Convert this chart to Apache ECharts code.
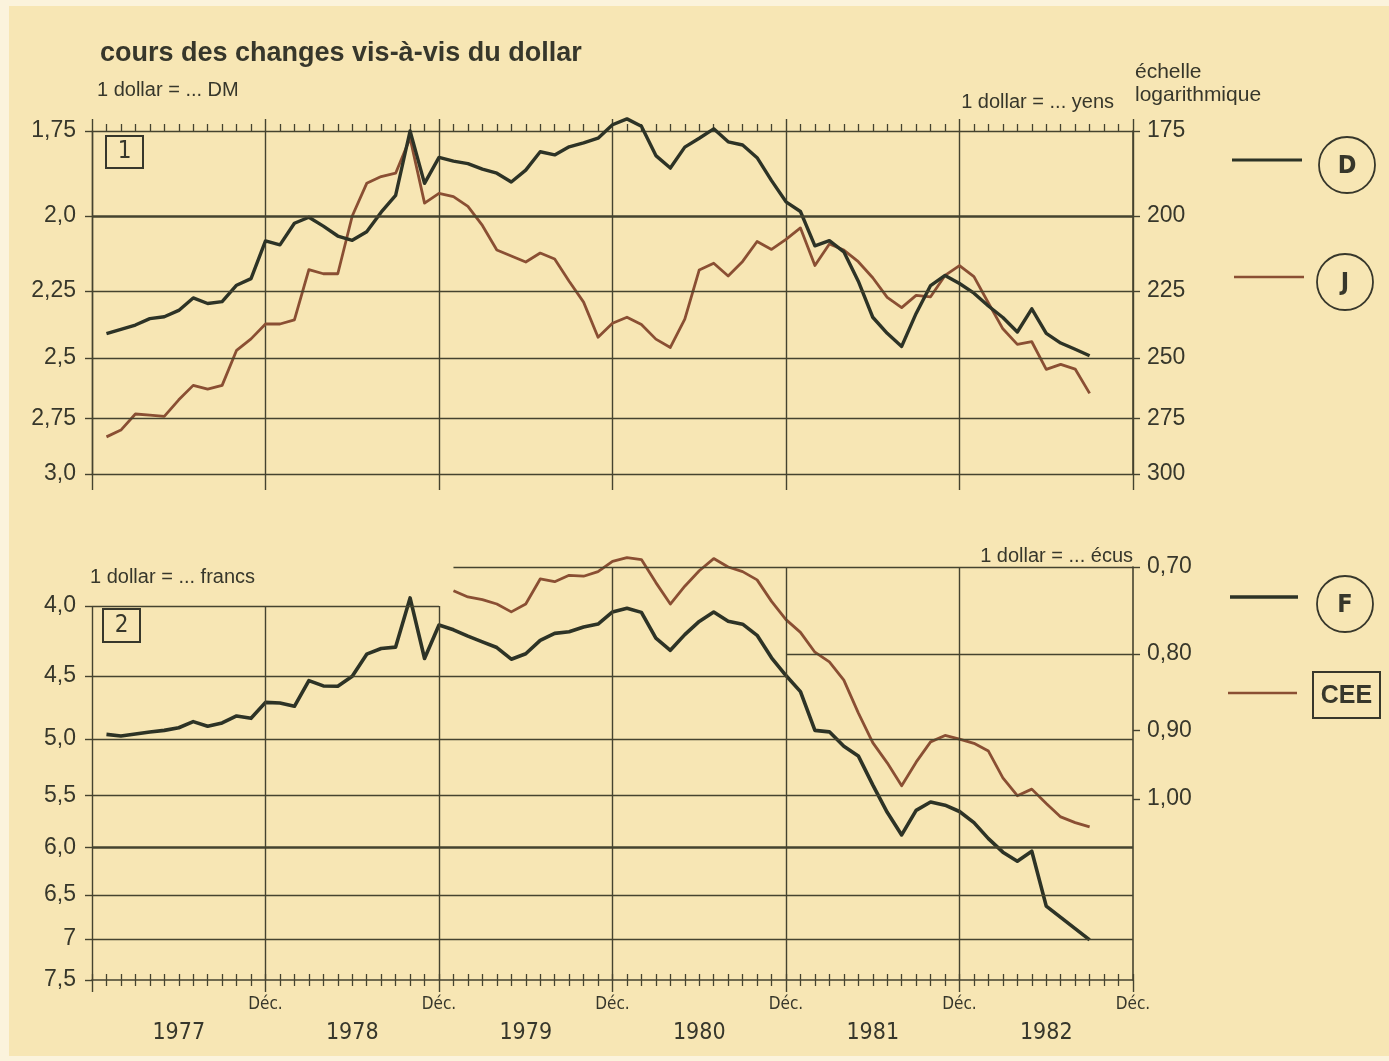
<!DOCTYPE html>
<html>
<head>
<meta charset="utf-8">
<script src="https://cdn.jsdelivr.net/npm/echarts@6/dist/echarts.min.js"></script>
<style>
  html, body { margin: 0; padding: 0; background: #f7e6b4; }
  #chart { width: 1389px; height: 1061px; }
</style>
</head>
<body>
<div id="chart"></div>
<script>
// x = months since Dec 1976 (1 = Jan 1977)
const firstMonth = 1;
const ecuFirstMonth = 25;
const yearLabels = ['1977', '1978', '1979', '1980', '1981', '1982'];
const yearTicks = [6, 18, 30, 42, 54, 66];
const decTicks = [12, 24, 36, 48, 60, 72];

// 1 dollar = ... DM
const dmPerDollar = [
  2.406, 2.39, 2.374, 2.35, 2.343, 2.32, 2.275, 2.295, 2.288, 2.23, 2.207, 2.08,
  2.093, 2.023, 2.004, 2.032, 2.064, 2.078, 2.05, 1.988, 1.936, 1.75, 1.90, 1.824,
  1.835, 1.842, 1.858, 1.87, 1.896, 1.861, 1.808, 1.817, 1.794, 1.783, 1.77, 1.733,
  1.717, 1.737, 1.819, 1.855, 1.795, 1.77, 1.744, 1.78, 1.789, 1.825, 1.892, 1.956,
  1.986, 2.096, 2.079, 2.116, 2.216, 2.345, 2.405, 2.455, 2.331, 2.231, 2.196, 2.224,
  2.258, 2.304, 2.346, 2.40, 2.314, 2.405, 2.442, 2.466, 2.491
];
// 1 dollar = ... yens
const yenPerDollar = [
  283, 280, 273, 273.5, 274, 267, 261, 262.5, 261, 247, 242.6, 237,
  237, 235.5, 217.6, 219, 219, 200, 190, 188, 187, 177, 196, 193,
  194, 197, 203, 211, 213, 215, 212, 214, 221.6, 229, 242, 236.7,
  234.5, 237.2, 242.7, 245.9, 235.2, 217.7, 215.4, 219.8, 214.8, 208.2, 210.8, 207.5,
  203.8, 216.2, 209, 211, 214.9, 220.4, 227.3, 231, 226.6, 227.1, 219.6, 216.2,
  220, 229.3, 238.8, 244.7, 243.7, 254.5, 252.5, 254.4, 264.3
];
// 1 dollar = ... francs
const frfPerDollar = [
  4.963, 4.976, 4.96, 4.944, 4.93, 4.908, 4.858, 4.896, 4.869, 4.812, 4.831, 4.703,
  4.708, 4.734, 4.534, 4.575, 4.577, 4.501, 4.337, 4.296, 4.286, 3.946, 4.369, 4.13,
  4.163, 4.208, 4.248, 4.289, 4.374, 4.334, 4.238, 4.188, 4.177, 4.144, 4.123, 4.04,
  4.015, 4.043, 4.222, 4.309, 4.197, 4.105, 4.041, 4.103, 4.124, 4.202, 4.364, 4.496,
  4.619, 4.93, 4.942, 5.064, 5.146, 5.403, 5.658, 5.877, 5.639, 5.561, 5.59, 5.65,
  5.757, 5.914, 6.05, 6.142, 6.04, 6.624, 6.751, 6.879, 7.01
];
// 1 dollar = ... écus (from Jan 1979)
const ecuPerDollar = [
  0.726, 0.733, 0.736, 0.741, 0.750, 0.741, 0.713, 0.716, 0.709, 0.710, 0.705, 0.694,
  0.690, 0.692, 0.717, 0.741, 0.721, 0.704, 0.691, 0.700, 0.705, 0.714, 0.738, 0.759,
  0.774, 0.798, 0.810, 0.833, 0.876, 0.917, 0.946, 0.980, 0.945, 0.916, 0.907, 0.912,
  0.918, 0.929, 0.968, 0.995, 0.985, 1.007, 1.028, 1.037, 1.044
];

const dmTicks = [1.75, 2, 2.25, 2.5, 2.75, 3];
const dmTickLabels = ['1,75', '2,0', '2,25', '2,5', '2,75', '3,0'];
const yenTicks = [175, 200, 225, 250, 275, 300];
const frfTicks = [4, 4.5, 5, 5.5, 6, 6.5, 7, 7.5];
const frfTickLabels = ['4,0', '4,5', '5,0', '5,5', '6,0', '6,5', '7', '7,5'];
const ecuTicks = [0.7, 0.8, 0.9, 1.0];
const ecuTickLabels = ['0,70', '0,80', '0,90', '1,00'];

const ink = '#37372b';
const gridInk = '#45432f';
const darkLine = '#2d3326';
const brownLine = '#8a4f33';
const paper = '#f7e6b4';
const font = '"Liberation Sans", Arial, sans-serif';
const narrow = '"Liberation Sans Narrow", "DejaVu Sans Condensed", "Liberation Sans", sans-serif';

function pairs(values, start) {
  return values.map((v, i) => [start + i, v]);
}
function labelFor(ticks, labels) {
  return function (v) {
    const i = ticks.findIndex(t => Math.abs(t - v) < 1e-6);
    return i < 0 ? '' : labels[i];
  };
}
function hLine(v, w) {
  return { yAxis: v, lineStyle: { width: w || 1.4 } };
}

const chart = echarts.init(document.getElementById('chart'), null, { renderer: 'canvas' });

const axisText = { color: ink, fontFamily: font, fontSize: 23 };
const gridStroke = { color: gridInk, width: 1.4 };

const option = {
  backgroundColor: paper,
  animation: false,
  grid: [
    { left: 92, right: 256, top: 131, height: 343, containLabel: false, outerBoundsMode: 'none' },
    { left: 92, right: 256, top: 567, height: 413, containLabel: false, outerBoundsMode: 'none' }
  ],
  xAxis: [
    {
      gridIndex: 0, type: 'value', position: 'top', min: 0, max: 72, interval: 12,
      axisLine: { show: true, onZero: false, lineStyle: gridStroke },
      axisTick: { show: true, inside: false, length: 12, lineStyle: gridStroke },
      minorTick: { show: true, splitNumber: 12, length: 7, lineStyle: { color: gridInk, width: 1.3 } },
      axisLabel: { show: false },
      splitLine: { show: true, lineStyle: gridStroke }
    },
    {
      gridIndex: 0, type: 'value', position: 'bottom', min: 0, max: 72, interval: 12,
      axisLine: { show: true, onZero: false, lineStyle: gridStroke },
      axisTick: { show: true, inside: false, length: 16, lineStyle: gridStroke },
      axisLabel: { show: false },
      splitLine: { show: false }
    },
    {
      gridIndex: 1, type: 'value', position: 'bottom', min: 0, max: 72, interval: 12,
      axisLine: { show: true, onZero: false, lineStyle: { color: gridInk, width: 1.6 } },
      axisTick: { show: true, inside: false, length: 12, lineStyle: gridStroke },
      minorTick: { show: true, splitNumber: 12, length: 6, lineStyle: { color: gridInk, width: 1.3 } },
      axisLabel: {
        customValues: decTicks, formatter: () => 'Déc.', margin: 16,
        color: ink, fontFamily: narrow, fontSize: 17
      },
      splitLine: { show: false }
    },
    {
      gridIndex: 1, type: 'value', position: 'bottom', min: 0, max: 72, interval: 12,
      axisLine: { show: false, onZero: false },
      axisTick: { show: true, inside: true, length: 6, lineStyle: { color: gridInk, width: 1.3 } },
      minorTick: { show: true, splitNumber: 12, length: 6, lineStyle: { color: gridInk, width: 1.3 } },
      axisLabel: {
        customValues: yearTicks, formatter: labelFor(yearTicks, yearLabels), margin: 42,
        color: ink, fontFamily: narrow, fontSize: 23
      },
      splitLine: { show: false }
    }
  ],
  yAxis: [
    {
      gridIndex: 0, type: 'log', inverse: true, position: 'left', min: 1.75, max: 3,
      axisLine: { show: true, onZero: false, lineStyle: gridStroke },
      axisTick: { show: true, customValues: dmTicks, length: 7, lineStyle: gridStroke },
      axisLabel: Object.assign({ customValues: dmTicks, formatter: labelFor(dmTicks, dmTickLabels), margin: 16 }, axisText),
      splitLine: { show: false }
    },
    {
      gridIndex: 0, type: 'log', inverse: true, position: 'right', min: 175, max: 300,
      axisLine: { show: true, onZero: false, lineStyle: { color: gridInk, width: 1.6 } },
      axisTick: { show: true, customValues: yenTicks, length: 7, lineStyle: gridStroke },
      axisLabel: Object.assign({ customValues: yenTicks, margin: 14 }, axisText),
      splitLine: { show: false }
    },
    {
      gridIndex: 1, type: 'log', inverse: true, position: 'left', min: 3.746, max: 7.5,
      axisLine: { show: false, onZero: false },
      axisTick: { show: true, customValues: frfTicks, length: 7, lineStyle: gridStroke },
      axisLabel: Object.assign({ customValues: frfTicks, formatter: labelFor(frfTicks, frfTickLabels), margin: 16 }, axisText),
      splitLine: { show: false }
    },
    {
      gridIndex: 1, type: 'log', inverse: true, position: 'right', min: 0.70, max: 1.321,
      axisLine: { show: true, onZero: false, lineStyle: { color: gridInk, width: 1.6 } },
      axisTick: { show: true, customValues: ecuTicks, length: 7, lineStyle: gridStroke },
      axisLabel: Object.assign({ customValues: ecuTicks, formatter: labelFor(ecuTicks, ecuTickLabels), margin: 14 }, axisText),
      splitLine: { show: false }
    }
  ],
  series: [
    {
      name: 'D', type: 'line', xAxisIndex: 0, yAxisIndex: 0, clip: false, z: 4,
      data: pairs(dmPerDollar, firstMonth), showSymbol: false,
      lineStyle: { color: darkLine, width: 3.4, join: 'round' },
      markLine: {
        silent: true, symbol: 'none', label: { show: false },
        lineStyle: { color: gridInk, type: 'solid', width: 1.4 },
        data: [hLine(2, 2.6), hLine(2.25), hLine(2.5), hLine(2.75)]
      }
    },
    {
      name: 'J', type: 'line', xAxisIndex: 0, yAxisIndex: 1, clip: false, z: 3,
      data: pairs(yenPerDollar, firstMonth), showSymbol: false,
      lineStyle: { color: brownLine, width: 2.8, join: 'round' }
    },
    {
      name: 'F', type: 'line', xAxisIndex: 2, yAxisIndex: 2, clip: false, z: 4,
      data: pairs(frfPerDollar, firstMonth), showSymbol: false,
      lineStyle: { color: darkLine, width: 3.6, join: 'round' },
      markLine: {
        silent: true, symbol: 'none', label: { show: false },
        lineStyle: { color: gridInk, type: 'solid', width: 1.4 },
        data: [
          [{ coord: [0, 4] }, { coord: [24, 4] }],
          [{ coord: [0, 4.5] }, { coord: [48, 4.5] }],
          hLine(5), hLine(5.5), hLine(6, 2.6), hLine(6.5), hLine(7),
          [{ coord: [0, 4] }, { coord: [0, 7.5] }],
          [{ coord: [12, 4] }, { coord: [12, 7.5] }],
          [{ coord: [24, 4] }, { coord: [24, 7.5] }]
        ]
      }
    },
    {
      name: 'CEE', type: 'line', xAxisIndex: 2, yAxisIndex: 3, clip: false, z: 3,
      data: pairs(ecuPerDollar, ecuFirstMonth), showSymbol: false,
      lineStyle: { color: brownLine, width: 2.8, join: 'round' },
      markLine: {
        silent: true, symbol: 'none', label: { show: false },
        lineStyle: { color: gridInk, type: 'solid', width: 1.4 },
        data: [
          [{ coord: [25, 0.7] }, { coord: [72, 0.7] }],
          [{ coord: [48, 0.8] }, { coord: [72, 0.8] }],
          [{ coord: [36, 0.7] }, { coord: [36, 1.321] }],
          [{ coord: [48, 0.7] }, { coord: [48, 1.321] }],
          [{ coord: [60, 0.7] }, { coord: [60, 1.321] }]
        ]
      }
    }
  ],
  graphic: [
    // pale scan margins
    { type: 'rect', z: -1, shape: { x: 0, y: 0, width: 9, height: 1061 }, style: { fill: '#fbf3dc' } },
    { type: 'rect', z: -1, shape: { x: 0, y: 0, width: 1389, height: 6 }, style: { fill: '#fbf3dc' } },
    { type: 'rect', z: -1, shape: { x: 0, y: 1056, width: 1389, height: 5 }, style: { fill: '#fbf3dc' } },

    { type: 'text', left: 100, top: 40, style: { text: 'cours des changes vis-à-vis du dollar', fill: ink, font: 'bold 27px ' + font } },
    { type: 'text', left: 97, top: 80, style: { text: '1 dollar = ... DM', fill: ink, font: '20px ' + font } },
    { type: 'text', right: 1389 - 1114, top: 92, style: { text: '1 dollar = ... yens', fill: ink, font: '20px ' + font } },
    { type: 'text', left: 1135, top: 61, style: { text: 'échelle\nlogarithmique', fill: ink, font: '21px ' + font, lineHeight: 23 } },
    { type: 'text', left: 90, top: 567, style: { text: '1 dollar = ... francs', fill: ink, font: '20px ' + font } },
    { type: 'text', right: 1389 - 1133, top: 546, style: { text: '1 dollar = ... écus', fill: ink, font: '20px ' + font } },

    { type: 'rect', shape: { x: 106, y: 136, width: 37, height: 32 }, style: { fill: 'none', stroke: ink, lineWidth: 2 } },
    { type: 'text', x: 124.5, y: 152, style: { text: '1', fill: ink, font: '24px ' + narrow, align: 'center', verticalAlign: 'middle' } },
    { type: 'rect', shape: { x: 103, y: 609, width: 37, height: 33 }, style: { fill: 'none', stroke: ink, lineWidth: 2 } },
    { type: 'text', x: 121.5, y: 626, style: { text: '2', fill: ink, font: '24px ' + narrow, align: 'center', verticalAlign: 'middle' } },

    { type: 'line', shape: { x1: 1232, y1: 160, x2: 1302, y2: 160 }, style: { stroke: darkLine, lineWidth: 3.2 } },
    { type: 'circle', shape: { cx: 1347, cy: 165, r: 28 }, style: { fill: 'none', stroke: ink, lineWidth: 1.8 } },
    { type: 'text', x: 1347, y: 166, style: { text: 'D', fill: ink, font: 'bold 25px ' + narrow, align: 'center', verticalAlign: 'middle' } },

    { type: 'line', shape: { x1: 1234, y1: 277, x2: 1304, y2: 277 }, style: { stroke: brownLine, lineWidth: 2.6 } },
    { type: 'circle', shape: { cx: 1345, cy: 282, r: 28 }, style: { fill: 'none', stroke: ink, lineWidth: 1.8 } },
    { type: 'text', x: 1345, y: 283, style: { text: 'J', fill: ink, font: 'bold 25px ' + narrow, align: 'center', verticalAlign: 'middle' } },

    { type: 'line', shape: { x1: 1230, y1: 597, x2: 1298, y2: 597 }, style: { stroke: darkLine, lineWidth: 3.4 } },
    { type: 'circle', shape: { cx: 1345, cy: 604, r: 28 }, style: { fill: 'none', stroke: ink, lineWidth: 1.8 } },
    { type: 'text', x: 1345, y: 605, style: { text: 'F', fill: ink, font: 'bold 25px ' + narrow, align: 'center', verticalAlign: 'middle' } },

    { type: 'line', shape: { x1: 1228, y1: 693, x2: 1297, y2: 693 }, style: { stroke: brownLine, lineWidth: 2.6 } },
    { type: 'rect', shape: { x: 1313, y: 672, width: 67, height: 46 }, style: { fill: 'none', stroke: ink, lineWidth: 2 } },
    { type: 'text', x: 1346.5, y: 696, style: { text: 'CEE', fill: ink, font: 'bold 25px ' + font, align: 'center', verticalAlign: 'middle' } }
  ]
};

chart.setOption(option);
</script>
</body>
</html>
